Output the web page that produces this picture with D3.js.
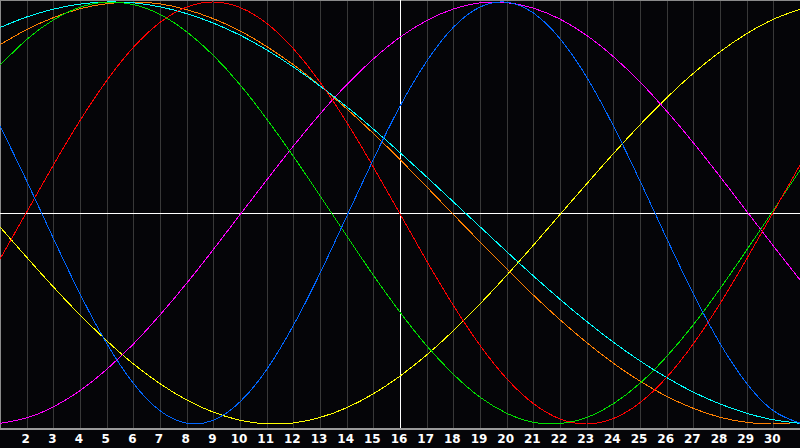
<!DOCTYPE html>
<html>
<head>
<meta charset="utf-8">
<script src="https://cdn.jsdelivr.net/npm/d3@7"></script>
<style>
  html, body { margin: 0; padding: 0; background: #050508; }
  svg { display: block; }
  .day { font-family: "DejaVu Sans", sans-serif; font-weight: bold; font-size: 12px; fill: #ffffff; }
</style>
</head>
<body>
<svg id="chart"></svg>
<script>
// days 1..31, today = 16
var days = d3.range(1, 32);
var tickDays = d3.range(2, 31);
var today = 16;

// values in percent, one per day
var blue = [41.3, 15.2, -12.0, -38.3, -61.8, -80.7, -93.7, -99.6, -98.2, -89.5, -74.2, -53.3, -28.6, -1.6, 25.4, 50.6,
	71.9, 88.0, 97.6, 99.9, 94.8, 82.6, 64.4, 41.3, 15.2, -12.0, -38.3, -61.8, -80.7, -93.7, -99.6];
var red = [-21.8, 0.4, 22.7, 43.8, 62.7, 78.5, 90.3, 97.6, 100.0, 97.4, 89.9, 77.9, 62.0, 43.0, 21.8, -0.4,
	-22.7, -43.8, -62.7, -78.5, -90.3, -97.6, -100.0, -97.4, -89.9, -77.9, -62.0, -43.0, -21.8, 0.4, 22.7];
var green = [70.0, 82.2, 91.5, 97.5, 99.9, 98.8, 94.1, 85.9, 74.7, 60.8, 44.6, 26.9, 8.2, -10.8, -29.5, -47.0,
	-62.9, -76.4, -87.3, -94.9, -99.2, -99.8, -96.9, -90.4, -80.7, -68.0, -53.0, -35.9, -17.6, 1.3, 20.2];
var magenta = [-99.7, -97.1, -91.9, -84.2, -74.1, -62.1, -48.3, -33.3, -17.3, -0.8, 15.6, 31.7, 46.9, 60.8, 73.0, 83.3,
	91.2, 96.7, 99.6, 99.7, 97.1, 91.9, 84.2, 74.1, 62.1, 48.3, 33.3, 17.3, 0.8, -15.6, -31.7];
var yellow = [-6.6, -21.0, -35.0, -48.3, -60.5, -71.5, -80.9, -88.6, -94.4, -98.2, -99.9, -99.5, -96.9, -92.3, -85.7, -77.3,
	-67.3, -55.8, -43.1, -29.5, -15.3, -0.7, 13.8, 28.1, 41.8, 54.6, 66.2, 76.4, 85.0, 91.8, 96.6];
var orange = [79.8, 86.9, 92.6, 96.8, 99.2, 100.0, 99.1, 96.4, 92.1, 86.3, 78.9, 70.3, 60.3, 49.4, 37.7, 25.3,
	12.4, -0.7, -13.7, -26.5, -38.9, -50.6, -61.4, -71.2, -79.7, -86.9, -92.6, -96.8, -99.2, -100.0, -99.1];
var cyan = [87.9, 92.9, 96.6, 99.0, 100.0, 99.6, 97.7, 94.5, 90.0, 84.3, 77.3, 69.2, 60.2, 50.4, 39.8, 28.6,
	17.1, 5.3, -6.5, -18.3, -29.8, -40.9, -51.4, -61.2, -70.1, -78.0, -84.9, -90.5, -94.9, -98.0, -99.7];

var series = [
	{ values: yellow, color: '#ffff00' },
	{ values: magenta, color: '#ff00ff' },
	{ values: orange, color: '#ff8000' },
	{ values: cyan, color: '#00ffff' },
	{ values: green, color: '#00e000' },
	{ values: red, color: '#ff0000' },
	{ values: blue, color: '#0066ff' }
];

var w = 800,
	h = 448,
	plotBottom = 428;

var svg = d3.select('#chart')
	.attr('width', w)
	.attr('height', h);

var x = d3.scaleLinear().domain([1, 31]).range([0, 800]);
var y = d3.scaleLinear().domain([-100, 100]).range([424, 2]);

svg.append('rect')
	.attr('width', w)
	.attr('height', h)
	.attr('fill', '#050508');

// day grid
svg.append('g')
	.selectAll('line')
	.data(tickDays.filter(function (d) { return d !== today; }))
	.enter()
	.append('line')
	.attr('x1', function (d) { return Math.round(x(d)) + 0.5; })
	.attr('x2', function (d) { return Math.round(x(d)) + 0.5; })
	.attr('y1', 0)
	.attr('y2', plotBottom)
	.attr('stroke', '#383838')
	.attr('shape-rendering', 'crispEdges');

// border top / left
svg.append('path')
	.attr('d', 'M0.5,' + plotBottom + 'V0.5H' + w)
	.attr('fill', 'none')
	.attr('stroke', '#8a8a8a')
	.attr('shape-rendering', 'crispEdges');

// zero line and today
svg.append('line')
	.attr('x1', 0)
	.attr('x2', w)
	.attr('y1', Math.round(y(0)) + 0.5)
	.attr('y2', Math.round(y(0)) + 0.5)
	.attr('stroke', '#ffffff')
	.attr('shape-rendering', 'crispEdges');

svg.append('line')
	.attr('x1', Math.round(x(today)) + 0.5)
	.attr('x2', Math.round(x(today)) + 0.5)
	.attr('y1', 0)
	.attr('y2', plotBottom)
	.attr('stroke', '#ffffff')
	.attr('shape-rendering', 'crispEdges');

var line = d3.line()
	.x(function (d, i) { return x(days[i]); })
	.y(function (d) { return y(d); })
	.curve(d3.curveNatural);

svg.append('g')
	.selectAll('path')
	.data(series)
	.enter()
	.append('path')
	.attr('d', function (s) { return line(s.values); })
	.attr('fill', 'none')
	.attr('stroke', function (s) { return s.color; })
	.attr('stroke-width', 1)
	.attr('shape-rendering', 'crispEdges');

// bottom axis
svg.append('line')
	.attr('x1', 0)
	.attr('x2', w)
	.attr('y1', plotBottom + 0.5)
	.attr('y2', plotBottom + 0.5)
	.attr('stroke', '#9a9a9a')
	.attr('stroke-width', 2)
	.attr('shape-rendering', 'crispEdges');

svg.append('g')
	.selectAll('text')
	.data(tickDays)
	.enter()
	.append('text')
	.attr('class', 'day')
	.attr('x', function (d) { return x(d) - 1; })
	.attr('y', 443)
	.attr('text-anchor', 'middle')
	.text(function (d) { return d; });
</script>
</body>
</html>
